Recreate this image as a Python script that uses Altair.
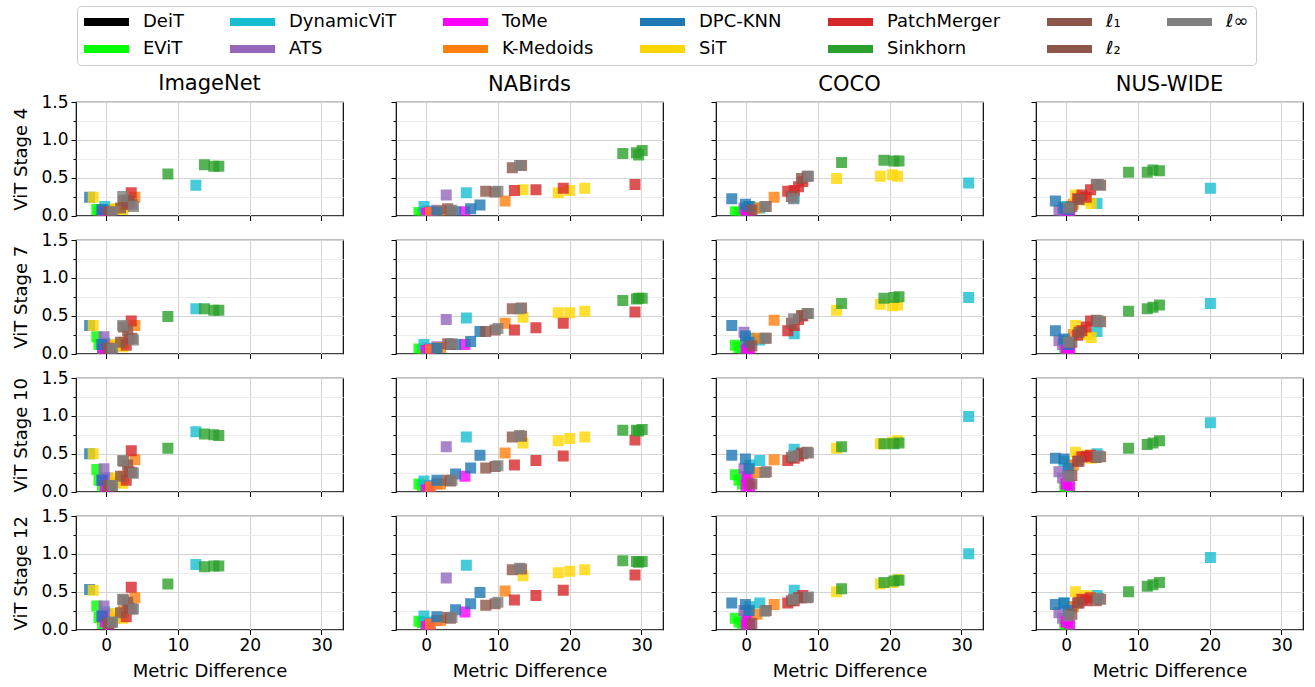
import altair as alt
import pandas as pd

DATASETS = ["ImageNet", "NABirds", "COCO", "NUS-WIDE"]
STAGES = [4, 7, 10, 12]
METHODS = ["DeiT", "EViT", "DynamicViT", "ATS", "ToMe", "K-Medoids", "DPC-KNN",
           "SiT", "PatchMerger", "Sinkhorn", "ℓ₁", "ℓ₂", "ℓ∞"]
COLORS = {"DeiT": "#000000", "EViT": "#00ff00", "DynamicViT": "#17becf", "ATS": "#9467bd",
          "ToMe": "#ff00ff", "K-Medoids": "#ff7f0e", "DPC-KNN": "#1f77b4", "SiT": "#ffd700",
          "PatchMerger": "#d62728", "Sinkhorn": "#2ca02c", "ℓ₁": "#8c564b", "ℓ₂": "#8c564b",
          "ℓ∞": "#7f7f7f"}
# legend fills row by row, 7 columns
LEGEND_ORDER = ["DeiT", "DynamicViT", "ToMe", "DPC-KNN", "PatchMerger", "ℓ₁", "ℓ∞",
                "EViT", "ATS", "K-Medoids", "SiT", "Sinkhorn", "ℓ₂"]

# x: metric difference per method (same for all stages); y: one list per stage [4, 7, 10, 12]
X_IMAGENET = {
    "EViT": [-1.3, -1.0, -0.5], "DynamicViT": [-0.2, 0.4, 12.5], "ATS": [-0.3, 0.2, 0.6],
    "ToMe": [-0.5, -0.1, 0.3], "K-Medoids": [1.2, 2.4, 4.0], "DPC-KNN": [-2.3, -0.6, 0.8],
    "SiT": [-1.8, 1.3, 2.3], "PatchMerger": [2.8, 3.2, 3.5], "Sinkhorn": [8.6, 13.7, 15.0, 15.7],
    "ℓ₁": [0.3, 2.0, 3.0], "ℓ₂": [0.6, 2.4, 3.6], "ℓ∞": [0.9, 2.3, 3.8]}
Y_IMAGENET = {
    "EViT": [[0.08, 0.05, 0.03], [0.22, 0.12, 0.06], [0.29, 0.15, 0.07], [0.31, 0.16, 0.08]],
    "DynamicViT": [[0.12, 0.08, 0.40], [0.14, 0.10, 0.59], [0.18, 0.12, 0.79], [0.23, 0.15, 0.86]],
    "ATS": [[0.06, 0.05, 0.04], [0.22, 0.12, 0.08], [0.30, 0.18, 0.10], [0.31, 0.20, 0.12]],
    "ToMe": [[0.05, 0.03, 0.02], [0.06, 0.05, 0.03], [0.15, 0.06, 0.04], [0.17, 0.10, 0.06]],
    "K-Medoids": [[0.08, 0.12, 0.24], [0.10, 0.15, 0.37], [0.12, 0.20, 0.42], [0.15, 0.24, 0.42]],
    "DPC-KNN": [[0.24, 0.08, 0.05], [0.37, 0.12, 0.06], [0.50, 0.15, 0.08], [0.53, 0.18, 0.10]],
    "SiT": [[0.24, 0.09, 0.08], [0.37, 0.12, 0.09], [0.50, 0.18, 0.11], [0.52, 0.21, 0.15]],
    "PatchMerger": [[0.15, 0.18, 0.30], [0.11, 0.19, 0.43], [0.15, 0.26, 0.54], [0.17, 0.28, 0.56]],
    "Sinkhorn": [[0.55, 0.67, 0.65, 0.65], [0.49, 0.59, 0.57, 0.57], [0.57, 0.76, 0.75, 0.74],
                 [0.60, 0.83, 0.84, 0.84]],
    "ℓ₁": [[0.05, 0.10, 0.20], [0.07, 0.15, 0.30], [0.08, 0.20, 0.35], [0.08, 0.22, 0.36]],
    "ℓ₂": [[0.04, 0.20, 0.15], [0.06, 0.35, 0.20], [0.07, 0.40, 0.25], [0.09, 0.39, 0.27]],
    "ℓ∞": [[0.05, 0.25, 0.12], [0.06, 0.37, 0.18], [0.08, 0.41, 0.24], [0.10, 0.40, 0.27]]}

X_NABIRDS = {
    "EViT": [-1.0, -0.5, 0.0], "DynamicViT": [-0.3, 0.2, 5.6], "ATS": [0.5, 1.5, 2.8],
    "ToMe": [0.0, 0.5, 5.4], "K-Medoids": [0.6, 2.0, 11.0], "DPC-KNN": [1.5, 4.1, 6.2, 7.5],
    "SiT": [13.5, 18.4, 20.0, 22.1], "PatchMerger": [12.3, 15.3, 19.1, 29.1],
    "Sinkhorn": [27.4, 29.3, 29.6, 30.1], "ℓ₁": [3.0, 8.3, 12.0], "ℓ₂": [3.4, 9.6, 13.3],
    "ℓ∞": [3.6, 10.0, 13.0]}
Y_NABIRDS = {
    "EViT": [[0.04, 0.03, 0.02], [0.06, 0.05, 0.04], [0.10, 0.08, 0.06], [0.11, 0.09, 0.07]],
    "DynamicViT": [[0.12, 0.06, 0.30], [0.12, 0.07, 0.47], [0.14, 0.08, 0.72], [0.18, 0.10, 0.85]],
    "ATS": [[0.05, 0.07, 0.27], [0.06, 0.09, 0.45], [0.07, 0.10, 0.59], [0.08, 0.12, 0.68]],
    "ToMe": [[0.03, 0.04, 0.05], [0.04, 0.05, 0.12], [0.02, 0.04, 0.20], [0.04, 0.05, 0.23]],
    "K-Medoids": [[0.04, 0.06, 0.19], [0.05, 0.08, 0.40], [0.06, 0.10, 0.51], [0.07, 0.12, 0.51]],
    "DPC-KNN": [[0.05, 0.05, 0.09, 0.14], [0.07, 0.12, 0.16, 0.29], [0.15, 0.23, 0.31, 0.48],
                [0.17, 0.26, 0.34, 0.49]],
    "SiT": [[0.34, 0.30, 0.33, 0.36], [0.48, 0.54, 0.54, 0.56], [0.64, 0.67, 0.70, 0.72],
            [0.71, 0.75, 0.77, 0.79]],
    "PatchMerger": [[0.33, 0.34, 0.36, 0.41], [0.31, 0.34, 0.40, 0.55], [0.35, 0.41, 0.47, 0.68],
                    [0.39, 0.45, 0.52, 0.72]],
    "Sinkhorn": [[0.82, 0.83, 0.80, 0.86], [0.70, 0.72, 0.73, 0.73], [0.81, 0.81, 0.80, 0.82],
                 [0.91, 0.90, 0.89, 0.90]],
    "ℓ₁": [[0.09, 0.32, 0.63], [0.13, 0.29, 0.59], [0.15, 0.31, 0.72], [0.16, 0.32, 0.79]],
    "ℓ₂": [[0.06, 0.31, 0.66], [0.12, 0.31, 0.60], [0.14, 0.33, 0.73], [0.15, 0.34, 0.80]],
    "ℓ∞": [[0.07, 0.32, 0.66], [0.13, 0.33, 0.59], [0.15, 0.34, 0.74], [0.16, 0.36, 0.81]]}

X_COCO = {
    "EViT": [-1.5, -1.0, -0.5], "DynamicViT": [0.5, 1.9, 6.7, 31.0], "ATS": [-0.3, 0.0, 0.4],
    "ToMe": [0.0, 0.2, 0.5], "K-Medoids": [1.5, 3.9], "DPC-KNN": [-2.0, -0.1, 0.4],
    "SiT": [12.6, 18.7, 20.4, 21.1], "PatchMerger": [5.8, 6.7, 7.3, 7.9],
    "Sinkhorn": [13.3, 19.2, 20.6, 21.3], "ℓ₁": [0.8, 6.3, 7.7], "ℓ₂": [2.8, 8.5],
    "ℓ∞": [2.6, 6.6, 8.7]}
Y_COCO = {
    "EViT": [[0.05, 0.04, 0.03], [0.11, 0.08, 0.05], [0.22, 0.15, 0.10], [0.15, 0.10, 0.07]],
    "DynamicViT": [[0.12, 0.10, 0.23, 0.43], [0.20, 0.18, 0.26, 0.74], [0.35, 0.41, 0.56, 0.99],
                   [0.30, 0.35, 0.52, 1.00]],
    "ATS": [[0.10, 0.07, 0.05], [0.28, 0.15, 0.10], [0.30, 0.20, 0.12], [0.25, 0.18, 0.10]],
    "ToMe": [[0.04, 0.05, 0.03], [0.04, 0.06, 0.05], [0.08, 0.19, 0.06], [0.05, 0.12, 0.08]],
    "K-Medoids": [[0.10, 0.24], [0.20, 0.44], [0.25, 0.42], [0.20, 0.33]],
    "DPC-KNN": [[0.22, 0.15, 0.12], [0.37, 0.23, 0.15], [0.48, 0.43, 0.30], [0.35, 0.33, 0.25]],
    "SiT": [[0.49, 0.52, 0.54, 0.52], [0.57, 0.65, 0.63, 0.64], [0.57, 0.63, 0.65, 0.67],
            [0.50, 0.60, 0.62, 0.66]],
    "PatchMerger": [[0.32, 0.33, 0.38, 0.45], [0.30, 0.37, 0.45, 0.50], [0.41, 0.44, 0.47, 0.50],
                    [0.35, 0.38, 0.42, 0.45]],
    "Sinkhorn": [[0.70, 0.73, 0.72, 0.72], [0.66, 0.73, 0.74, 0.75], [0.59, 0.63, 0.63, 0.64],
                 [0.54, 0.62, 0.64, 0.65]],
    "ℓ₁": [[0.07, 0.25, 0.49], [0.10, 0.40, 0.50], [0.10, 0.45, 0.51], [0.08, 0.38, 0.42]],
    "ℓ₂": [[0.12, 0.52], [0.20, 0.53], [0.26, 0.52], [0.25, 0.42]],
    "ℓ∞": [[0.12, 0.22, 0.52], [0.20, 0.46, 0.53], [0.25, 0.47, 0.51], [0.24, 0.40, 0.43]]}

X_NUSWIDE = {
    "EViT": [-0.2, 0.1, 0.4], "DynamicViT": [-0.3, 0.5, 4.3, 20.1], "ATS": [-1.0, -0.5, 0.0],
    "ToMe": [0.0, 0.3, 0.5], "K-Medoids": [1.0, 1.8], "DPC-KNN": [-1.5, -0.3, 0.3],
    "SiT": [1.3, 2.8, 3.5], "PatchMerger": [1.6, 2.2, 2.8, 3.4],
    "Sinkhorn": [8.7, 11.3, 12.1, 13.0], "ℓ₁": [1.8, 4.2], "ℓ₂": [0.8, 4.8], "ℓ∞": [0.3, 4.5]}
Y_NUSWIDE = {
    "EViT": [[0.03, 0.02, 0.02], [0.05, 0.04, 0.03], [0.06, 0.05, 0.04], [0.06, 0.05, 0.04]],
    "DynamicViT": [[0.12, 0.10, 0.16, 0.36], [0.17, 0.12, 0.29, 0.66], [0.40, 0.35, 0.50, 0.91],
                   [0.35, 0.30, 0.45, 0.95]],
    "ATS": [[0.07, 0.05, 0.04], [0.17, 0.12, 0.08], [0.26, 0.18, 0.10], [0.22, 0.15, 0.10]],
    "ToMe": [[0.04, 0.03, 0.02], [0.04, 0.06, 0.05], [0.10, 0.21, 0.08], [0.10, 0.15, 0.06]],
    "K-Medoids": [[0.15, 0.23], [0.25, 0.30], [0.35, 0.45], [0.30, 0.40]],
    "DPC-KNN": [[0.19, 0.10, 0.08], [0.30, 0.19, 0.12], [0.44, 0.43, 0.30], [0.33, 0.35, 0.25]],
    "SiT": [[0.27, 0.20, 0.16], [0.37, 0.25, 0.21], [0.52, 0.48, 0.44], [0.50, 0.45, 0.42]],
    "PatchMerger": [[0.22, 0.27, 0.24, 0.34], [0.24, 0.30, 0.35, 0.43], [0.40, 0.46, 0.46, 0.48],
                    [0.35, 0.40, 0.38, 0.42]],
    "Sinkhorn": [[0.57, 0.57, 0.60, 0.59], [0.56, 0.59, 0.61, 0.64], [0.57, 0.62, 0.64, 0.67],
                 [0.50, 0.57, 0.59, 0.62]],
    "ℓ₁": [[0.21, 0.41], [0.28, 0.44], [0.40, 0.45], [0.35, 0.38]],
    "ℓ₂": [[0.12, 0.40], [0.15, 0.42], [0.21, 0.46], [0.20, 0.40]],
    "ℓ∞": [[0.10, 0.41], [0.15, 0.43], [0.20, 0.47], [0.18, 0.41]]}

X_TICKS = [0, 10, 20, 30]
Y_TICKS = [0, 0.25, 0.5, 0.75, 1.0, 1.25, 1.5]

XS = {"ImageNet": X_IMAGENET, "NABirds": X_NABIRDS, "COCO": X_COCO, "NUS-WIDE": X_NUSWIDE}
YS = {"ImageNet": Y_IMAGENET, "NABirds": Y_NABIRDS, "COCO": Y_COCO, "NUS-WIDE": Y_NUSWIDE}

rows = []
for ds in DATASETS:
    for si, st in enumerate(STAGES):
        for m in METHODS:
            if m not in XS[ds]:
                continue
            for xv, yv in zip(XS[ds][m], YS[ds][m][si]):
                rows.append({"dataset": ds, "stage": st, "method": m, "x": xv, "y": yv})
df = pd.DataFrame(rows)

FONT = "DejaVu Sans"
legend = alt.Legend(
    orient="none", legendX=1, legendY=-96, direction="horizontal", columns=7, title=None,
    symbolType="M-1,-0.45H4V0.45H-1Z", symbolSize=324, symbolOpacity=1, symbolStrokeWidth=0,
    labelFontSize=18, labelFont=FONT, labelColor="black", labelOffset=41, columnPadding=46,
    rowPadding=9, padding=7, strokeColor="#cccccc", fillColor="white", cornerRadius=4,
    labelLimit=300)

color_scale = alt.Scale(domain=LEGEND_ORDER, range=[COLORS[m] for m in LEGEND_ORDER])

panels = []
for si, st in enumerate(STAGES):
    for di, ds in enumerate(DATASETS):
        sub = df[(df["dataset"] == ds) & (df["stage"] == st)]
        first_col = di == 0
        last_row = si == len(STAGES) - 1
        x_axis = alt.Axis(
            values=X_TICKS, labels=last_row, title="Metric Difference" if last_row else None,
            grid=True, gridColor="#d4d4d4", tickSize=5, labelFontSize=17, titleFontSize=18,
            labelPadding=3, titlePadding=9)
        y_axis = alt.Axis(
            values=Y_TICKS, labels=first_col,
            labelExpr="datum.value % 0.5 == 0 ? format(datum.value, '.1f') : ''",
            title=f"ViT Stage {st}" if first_col else None,
            grid=True,
            gridColor={"condition": {"test": "datum.value % 0.5 != 0", "value": "#ececec"},
                       "value": "#d4d4d4"},
            tickSize={"condition": {"test": "datum.value % 0.5 != 0", "value": 3}, "value": 5},
            labelFontSize=17, titleFontSize=18, labelPadding=3, titlePadding=10)
        ch = alt.Chart(sub).mark_point(
            shape="square", filled=True, size=121, opacity=0.8, clip=True, strokeWidth=0
        ).encode(
            x=alt.X("x:Q", scale=alt.Scale(domain=[-4.2, 33], nice=False, zero=False), axis=x_axis),
            y=alt.Y("y:Q", scale=alt.Scale(domain=[0, 1.5], nice=False, zero=False), axis=y_axis),
            color=alt.Color("method:N", scale=color_scale, legend=legend),
        )
        if si == 0:
            ch = ch.properties(width=267, height=113.5,
                               title=alt.TitleParams(ds, fontSize=21, font=FONT, frame="group",
                                                     anchor="middle", fontWeight="normal",
                                                     color="black",
                                                     offset=-1 if first_col else 7))
        else:
            ch = ch.properties(width=267, height=113.5)
        panels.append(ch)

chart = alt.concat(*panels, columns=4, spacing={"row": 24, "column": 53}, bounds="flush").properties(
    padding={"left": 12, "top": 5, "right": 5, "bottom": 5}
).configure(font=FONT).configure_view(
    stroke="black", strokeWidth=1.2
).configure_axis(
    domain=False, tickColor="black", tickWidth=1, labelColor="black", titleColor="black",
    labelFont=FONT, titleFont=FONT, titleFontWeight="normal", gridWidth=1
)

chart.save("out.html", embed_options={"renderer": "svg", "actions": False})
